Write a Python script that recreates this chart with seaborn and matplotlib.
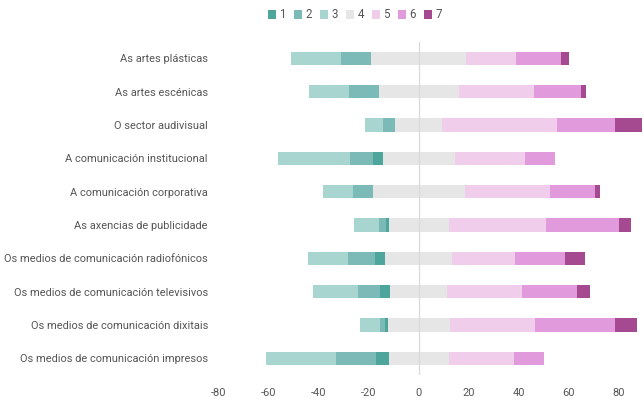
import matplotlib
matplotlib.use("Agg")
import matplotlib.pyplot as plt
from matplotlib.patches import Patch
import seaborn as sns
import pandas as pd

categories = [
    "As artes plásticas",
    "As artes escénicas",
    "O sector audivisual",
    "A comunicación institucional",
    "A comunicación corporativa",
    "As axencias de publicidade",
    "Os medios de comunicación radiofónicos",
    "Os medios de comunicación televisivos",
    "Os medios de comunicación dixitais",
    "Os medios de comunicación impresos",
]
s1 = [0, 0, 0, 4, 0, 1, 4, 4, 1, 5]
s2 = [12, 12, 5, 9, 8, 3, 11, 9, 2, 16]
s3 = [20, 16, 7, 29, 12, 10, 16, 18, 8, 28]
s4 = [38, 32, 19, 29, 37, 24, 27, 23, 25, 24]
s5 = [20, 30, 46, 28, 34, 39, 25, 30, 34, 26]
s6 = [18, 19, 23, 12, 18, 29, 20, 22, 32, 12]
s7 = [3, 2, 11, 0, 2, 5, 8, 5, 9, 0]
series_labels = ["1", "2", "3", "4", "5", "6", "7"]
colors = ["#4DA59C", "#7BBAB6", "#A8D5D0", "#E6E6E6", "#F0CDEB", "#E19ADC", "#A54A90"]

sns.set_theme(style="white")
plt.rcParams["font.family"] = ["Roboto", "DejaVu Sans"]
plt.rcParams["axes.unicode_minus"] = False

df = pd.DataFrame({"cat": categories, "s1": s1, "s2": s2, "s3": s3, "s4": s4,
                   "s5": s5, "s6": s6, "s7": s7})
half = df["s4"] / 2
# cumulative outer ends for overlapping bars
layers = [
    (-(half + df.s1 + df.s2 + df.s3), colors[2]),
    (-(half + df.s1 + df.s2), colors[1]),
    (-(half + df.s1), colors[0]),
    (half + df.s5 + df.s6 + df.s7, colors[6]),
    (half + df.s5 + df.s6, colors[5]),
    (half + df.s5, colors[4]),
    (half, colors[3]),
    (-half, colors[3]),
]

fig = plt.figure(figsize=(6.43, 4.0), dpi=100)
ax = fig.add_axes([219 / 643, 25 / 400, (643 - 219) / 643, 333.5 / 400])
for vals, col in layers:
    d = pd.DataFrame({"cat": df["cat"], "v": vals})
    sns.barplot(data=d, x="v", y="cat", color=col, orient="h", width=0.4,
                errorbar=None, ax=ax, saturation=1, linewidth=0)

ax.axvline(0, color="#D9D9D9", lw=0.9, zorder=5)
ax.set_xlim(-80, 89.8)
ax.set_ylim(9.5, -0.5)
ax.set_xticks(range(-80, 81, 20))
ax.set_xlabel("")
ax.set_ylabel("")
for s in ax.spines.values():
    s.set_visible(False)
ax.tick_params(axis="both", length=0, colors="#555555", labelsize=7.9)
ax.tick_params(axis="x", pad=9)
ax.tick_params(axis="y", pad=8)

handles = [Patch(facecolor=c, edgecolor="none", label=l) for c, l in zip(colors, series_labels)]
fig.legend(handles=handles, loc="center", bbox_to_anchor=(355 / 643, 1 - 15 / 400),
           ncol=7, frameon=False, fontsize=8.3, handlelength=0.7, handleheight=0.7,
           handletextpad=0.3, columnspacing=0.7, labelcolor="#555555")

fig.savefig("out.png", dpi=100)
